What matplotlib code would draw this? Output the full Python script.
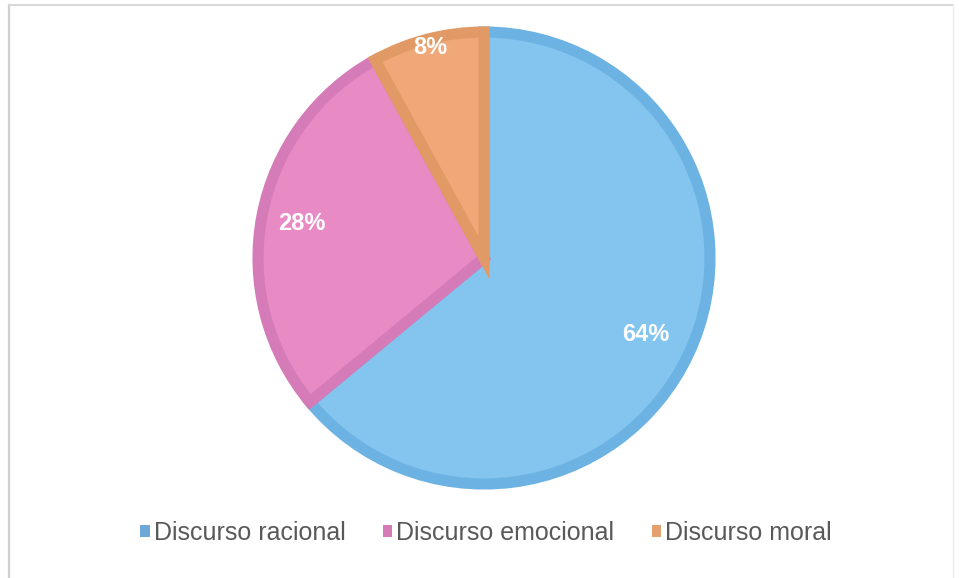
import matplotlib
matplotlib.use("Agg")
import matplotlib.pyplot as plt
from matplotlib.patches import Patch
from matplotlib.lines import Line2D
import numpy as np

categories = ["Discurso racional", "Discurso emocional", "Discurso moral"]
values = [64, 28, 8]
labels = ["64%", "28%", "8%"]

fill_colors = ["#84C5EF", "#E88AC4", "#F1A878"]
edge_colors = ["#6CB2E2", "#D57BB8", "#E19A66"]
legend_colors = ["#6EA8D8", "#D77AB8", "#E5A070"]
label_dist = [0.79, 0.82, 0.96]

W, H = 959, 578
fig = plt.figure(figsize=(W / 100, H / 100), dpi=100)
fig.patch.set_facecolor("white")

# pie axes: center (483,258), radius ~226 px
cx, cy, r = 484, 258, 226
ax = fig.add_axes([(cx - r) / W, (H - cy - r) / H, 2 * r / W, 2 * r / H])

wedges, _ = ax.pie(values, startangle=90, counterclock=False, radius=1.0,
                   colors=fill_colors,
                   wedgeprops=dict(linewidth=8, edgecolor="none"))
for w, ec in zip(wedges, edge_colors):
    w.set_edgecolor(ec)
    w.set_clip_path(w)
ax.set_xlim(-1, 1)
ax.set_ylim(-1, 1)
ax.set_aspect("equal")
ax.axis("off")

for w, lab, d in zip(wedges, labels, label_dist):
    ang = np.deg2rad((w.theta1 + w.theta2) / 2)
    ax.text(d * np.cos(ang), d * np.sin(ang), lab, ha="center", va="center",
            color="white", fontsize=17, fontweight="bold",
            family=["Liberation Sans", "DejaVu Sans"])

handles = [Patch(facecolor=c, edgecolor="none") for c in legend_colors]
fig.legend(handles, categories, loc="center", bbox_to_anchor=(486 / W, 1 - 533 / H),
           ncol=3, frameon=False, handlelength=0.38, handleheight=0.38,
           handletextpad=0.16, columnspacing=1.5, labelcolor="#595959",
           prop={"family": ["Liberation Sans", "DejaVu Sans"], "size": 18})

# outer border lines
fig.add_artist(Line2D([9 / W, 9 / W], [0, 1 - 5 / H], color="#CFCFCF", lw=1.6, transform=fig.transFigure))
fig.add_artist(Line2D([9 / W, 953 / W], [1 - 5 / H, 1 - 5 / H], color="#D9D9D9", lw=1.4, transform=fig.transFigure))
fig.add_artist(Line2D([953 / W, 953 / W], [0, 1 - 5 / H], color="#EBEBEB", lw=1.0, transform=fig.transFigure))

fig.savefig("out.png", dpi=100, facecolor="white")
